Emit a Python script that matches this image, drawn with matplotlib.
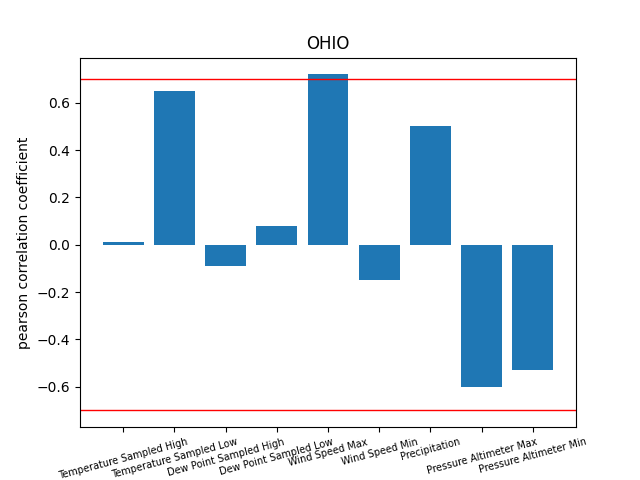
import matplotlib
matplotlib.use("Agg")
import matplotlib.pyplot as plt

features = [
    "Temperature Sampled High", "Temperature Sampled Low",
    "Dew Point Sampled High", "Dew Point Sampled Low",
    "Wind Speed Max", "Wind Speed Min", "Precipitation",
    "Pressure Altimeter Max", "Pressure Altimeter Min",
]
correlations = [0.01, 0.65, -0.09, 0.08, 0.72, -0.15, 0.50, -0.60, -0.53]
threshold = 0.7

fig, ax = plt.subplots(figsize=(6.4, 4.8), dpi=100)
ax.bar(features, correlations, color="tab:blue")
ax.axhline(threshold, color="red", linewidth=1)
ax.axhline(-threshold, color="red", linewidth=1)
ax.set_title("OHIO")
ax.set_ylabel("pearson correlation coefficient")
plt.xticks(rotation=15, fontsize=7)
plt.savefig("out.png")
